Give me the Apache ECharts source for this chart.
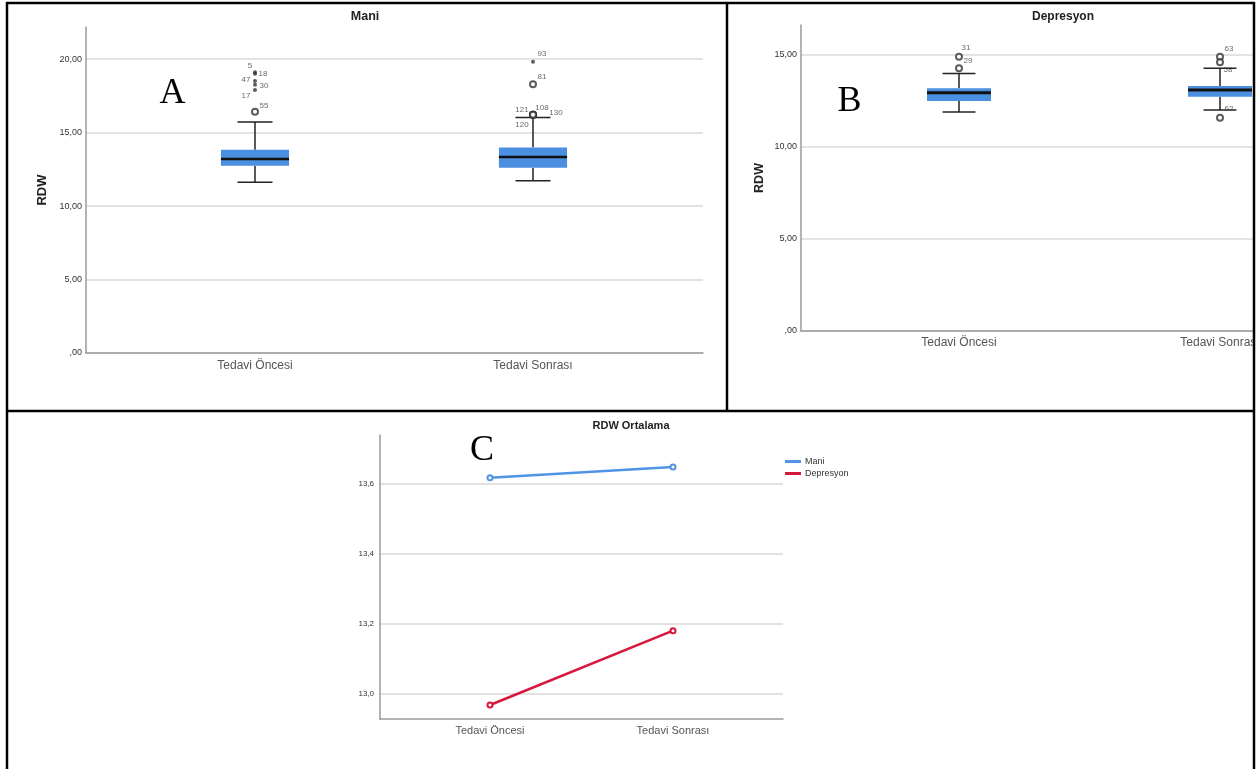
<!DOCTYPE html>
<html>
<head>
<meta charset="utf-8">
<title>RDW</title>
<script src="https://cdn.jsdelivr.net/npm/echarts@6/dist/echarts.min.js"></script>
<style>
  html, body { margin: 0; padding: 0; background: #fff; }
  #chart { width: 1256px; height: 769px; }
</style>
</head>
<body>
<div id="chart"></div>
<script>
// values
const categories = ['Tedavi Öncesi', 'Tedavi Sonrası'];

// [lower whisker, Q1, median, Q3, upper whisker]
const maniBox = [
  [11.61, 12.74, 13.20, 13.83, 15.71],
  [11.72, 12.61, 13.33, 13.99, 16.03]
];
// [category index, value, case no]
const maniOutliers = [
  [0, 16.41, '55'],
  [1, 18.28, '81'],
  [1, 16.21, '121'],
  [1, 16.21, '108'],
  [1, 16.21, '130'],
  [1, 16.21, '120']
];
const maniExtremes = [
  [0, 19.10, '5'],
  [0, 19.00, '18'],
  [0, 18.50, '47'],
  [0, 18.25, '30'],
  [0, 17.90, '17'],
  [1, 19.82, '93']
];

const depBox = [
  [11.90, 12.50, 12.95, 13.19, 14.00],
  [12.01, 12.73, 13.10, 13.32, 14.28]
];
const depOutliers = [
  [0, 14.91, '31'],
  [0, 14.28, '29'],
  [1, 14.91, '63'],
  [1, 14.60, '58'],
  [1, 11.59, '62']
];

const maniMeans = [13.616, 13.647];
const depMeans = [12.968, 13.180];

const rdwTicks = [0, 5, 10, 15, 20];
const meanTicks = [13.0, 13.2, 13.4, 13.6];

// label placement for the case numbers (pixels from the point)
const caseLabelOffset = {
  '55': [9, -6], '5': [-5, -6], '18': [8, 0], '47': [-9, -1], '30': [9, 1], '17': [-9, 6],
  '93': [9, -8], '81': [9, -8], '121': [-11, -5], '108': [9, -7], '130': [23, -2], '120': [-11, 10],
  '31': [7, -9], '29': [9, -7], '63': [9, -8], '58': [8, 7], '62': [9, -9]
};

const FONT = 'Liberation Sans, Arial, sans-serif';
const BOX_BLUE = '#4a8fe0';

const fmtRdw = v => (v === 0 ? ',00' : v.toFixed(2).replace('.', ','));
const fmtMean = v => v.toFixed(1).replace('.', ',');

function makeRenderBox(medianWidth) {
  return function (params, api) {
    const cat = api.value(0);
    const band = api.size([1, 0])[0];
    const boxW = band * 0.245;
    const capW = band * 0.126;
    const low = api.coord([cat, api.value(1)]);
    const q1 = api.coord([cat, api.value(2)]);
    const med = api.coord([cat, api.value(3)]);
    const q3 = api.coord([cat, api.value(4)]);
    const high = api.coord([cat, api.value(5)]);
    const x = low[0];
    const ws = { stroke: '#222', lineWidth: 1.5 };
    return {
      type: 'group',
      children: [
        { type: 'line', shape: { x1: x, y1: high[1], x2: x, y2: q3[1] }, style: ws },
        { type: 'line', shape: { x1: x, y1: low[1], x2: x, y2: q1[1] }, style: ws },
        { type: 'line', shape: { x1: x - capW / 2, y1: high[1], x2: x + capW / 2, y2: high[1] }, style: ws },
        { type: 'line', shape: { x1: x - capW / 2, y1: low[1], x2: x + capW / 2, y2: low[1] }, style: ws },
        { type: 'rect', shape: { x: x - boxW / 2, y: q3[1], width: boxW, height: q1[1] - q3[1] }, style: { fill: BOX_BLUE } },
        { type: 'line', shape: { x1: x - boxW / 2, y1: med[1], x2: x + boxW / 2, y2: med[1] }, style: { stroke: '#111', lineWidth: medianWidth } }
      ]
    };
  };
}

function boxSeries(rows, axisIdx, medianWidth) {
  return {
    type: 'custom',
    xAxisIndex: axisIdx,
    yAxisIndex: axisIdx,
    renderItem: makeRenderBox(medianWidth),
    encode: { x: 0, y: [1, 2, 3, 4, 5] },
    data: rows.map((r, i) => [i].concat(r)),
    z: 3
  };
}

function pointSeries(rows, axisIdx, extreme) {
  return {
    type: 'scatter',
    xAxisIndex: axisIdx,
    yAxisIndex: axisIdx,
    symbol: extreme ? 'circle' : 'emptyCircle',
    symbolSize: extreme ? 4 : 6,
    itemStyle: { color: '#333', borderWidth: 1 },
    label: {
      show: true,
      position: 'inside',
      formatter: '{b}',
      fontSize: 8,
      fontFamily: FONT,
      color: '#444'
    },
    data: rows.map(r => ({
      name: r[2],
      value: [r[0], r[1]],
      label: { offset: caseLabelOffset[r[2]] || [8, -6] }
    })),
    z: 4
  };
}

function frameY(gridIndex, min, max, ticks, fmt, opts) {
  return Object.assign({
    type: 'value',
    gridIndex: gridIndex,
    min: min,
    max: max,
    axisLine: { show: true, lineStyle: { color: '#9a9a9a', width: 1.5 } },
    axisTick: { show: false, customValues: ticks },
    axisLabel: { customValues: ticks, formatter: fmt, fontSize: 9, color: '#333', fontFamily: FONT, margin: 4 },
    splitLine: { show: true, lineStyle: { color: '#d9d9d9', width: 1.5 } }
  }, opts || {});
}

function frameX(gridIndex) {
  return {
    type: 'value',
    gridIndex: gridIndex,
    min: 0,
    max: 1,
    axisLine: { show: true, onZero: false, lineStyle: { color: '#9a9a9a', width: 1.5 } },
    axisTick: { show: false },
    axisLabel: { show: false },
    splitLine: { show: false }
  };
}

function dataX(gridIndex, fontSize, margin, gap) {
  return {
    type: 'category',
    gridIndex: gridIndex,
    data: categories,
    boundaryGap: gap,
    axisLine: { show: false },
    axisTick: { show: false },
    axisLabel: { fontSize: fontSize, color: '#555', fontFamily: FONT, margin: margin }
  };
}

function dataY(gridIndex, min, max) {
  return { type: 'value', gridIndex: gridIndex, min: min, max: max, show: false };
}

function grid(left, top, width, height) {
  return { left: left, top: top, width: width, height: height, outerBoundsMode: 'none', containLabel: false };
}

function txt(text, x, y, font, color) {
  return {
    type: 'text', x: x, y: y, z: 50,
    style: { text: text, font: font, fill: color || '#222', textAlign: 'center', textVerticalAlign: 'middle', align: 'center', verticalAlign: 'middle' }
  };
}

function border(x1, y1, x2, y2) {
  return { type: 'line', z: 100, shape: { x1: x1, y1: y1, x2: x2, y2: y2 }, style: { stroke: '#000', lineWidth: 2.5 } };
}

const chart = echarts.init(document.getElementById('chart'));

const A_MAX = 22.18, B_MAX = 16.63, C_MIN = 12.928, C_MAX = 13.738;

const option = {
  animation: false,
  backgroundColor: '#fff',
  grid: [
    grid(86, 27, 617, 326),
    grid(116, 27, 556, 326),
    grid(801, 25, 452, 306),
    // categories sit on the edges here so the grid stays inside the canvas
    grid(959, 25, 261, 306),
    grid(380, 435, 403, 284),
    grid(398.5, 435, 366, 284)
  ],
  xAxis: [
    frameX(0),
    dataX(1, 12, 7, true),
    frameX(2),
    dataX(3, 12, 6, false),
    frameX(4),
    dataX(5, 11, 6, true)
  ],
  yAxis: [
    frameY(0, 0, A_MAX, rdwTicks, fmtRdw, {
      name: 'RDW', nameLocation: 'middle', nameGap: 37,
      nameTextStyle: { fontSize: 13, fontWeight: 'bold', color: '#222', fontFamily: FONT }
    }),
    dataY(1, 0, A_MAX),
    frameY(2, 0, B_MAX, rdwTicks, fmtRdw, {
      name: 'RDW', nameLocation: 'middle', nameGap: 35,
      nameTextStyle: { fontSize: 12.5, fontWeight: 'bold', color: '#222', fontFamily: FONT }
    }),
    dataY(3, 0, B_MAX),
    frameY(4, C_MIN, C_MAX, meanTicks, fmtMean, {
      axisLabel: { customValues: meanTicks, formatter: fmtMean, fontSize: 8, color: '#333', fontFamily: FONT, margin: 6 }
    }),
    dataY(5, C_MIN, C_MAX)
  ],
  legend: {
    data: ['Mani', 'Depresyon'],
    orient: 'vertical',
    left: 785,
    top: 457,
    padding: 0,
    icon: 'rect',
    itemWidth: 16,
    itemHeight: 3,
    itemGap: 3,
    textStyle: { fontSize: 9, color: '#333', fontFamily: FONT, padding: [0, 0, 0, -1] }
  },
  series: [
    boxSeries(maniBox, 1, 2.5),
    pointSeries(maniOutliers, 1, false),
    pointSeries(maniExtremes, 1, true),
    boxSeries(depBox, 3, 3),
    pointSeries(depOutliers, 3, false),
    {
      name: 'Mani', type: 'line', xAxisIndex: 5, yAxisIndex: 5, data: maniMeans,
      symbol: 'emptyCircle', symbolSize: 5,
      lineStyle: { color: '#4f95e6', width: 2.5 }, itemStyle: { color: '#4f95e6' }
    },
    {
      name: 'Depresyon', type: 'line', xAxisIndex: 5, yAxisIndex: 5, data: depMeans,
      symbol: 'emptyCircle', symbolSize: 5,
      lineStyle: { color: '#d8173d', width: 2.5 }, itemStyle: { color: '#d8173d' }
    }
  ],
  graphic: [
    txt('Mani', 365, 17, 'bold 12.5px ' + FONT),
    txt('Depresyon', 1063, 17, 'bold 12px ' + FONT),
    txt('RDW Ortalama', 631, 426, 'bold 11px ' + FONT),
    txt('A', 172.5, 94, '36px Liberation Serif, Times New Roman, serif', '#000'),
    txt('B', 849.5, 102, '36px Liberation Serif, Times New Roman, serif', '#000'),
    txt('C', 482, 451, '36px Liberation Serif, Times New Roman, serif', '#000'),
    { type: 'rect', z: 99, shape: { x: 1255, y: 0, width: 10, height: 769 }, style: { fill: '#fff' } },
    border(7, 2, 7, 769),
    border(6, 3, 1255, 3),
    border(1254, 2, 1254, 769),
    border(727, 3, 727, 411),
    border(7, 411, 1254, 411)
  ]
};

chart.setOption(option);
</script>
</body>
</html>
